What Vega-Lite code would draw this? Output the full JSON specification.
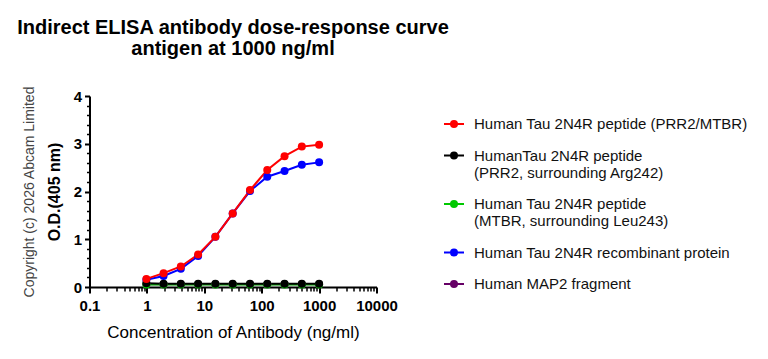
{
  "$schema": "https://vega.github.io/schema/vega-lite/v6.json",
  "autosize": {"type": "none"},
  "width": 287,
  "height": 191,
  "padding": {"left": 89.5, "top": 96, "right": 391.5, "bottom": 72},
  "background": "white",
  "config": {
    "view": {"stroke": null},
    "font": "Liberation Sans",
    "axis": {"grid": false, "domainColor": "black", "tickColor": "black", "labelColor": "black", "titleColor": "black"}
  },
  "title": {
    "text": ["Indirect ELISA antibody dose-response curve", "antigen at 1000 ng/ml"],
    "font": "Liberation Sans",
    "fontSize": 20,
    "fontWeight": "bold",
    "color": "black",
    "lineHeight": 21,
    "anchor": "middle",
    "frame": "group",
    "offset": 27
  },
  "data": {
    "values": [
      {"conc": 0.98, "od": 0.06, "series": "Human MAP2 fragment"},
      {"conc": 1.95, "od": 0.06, "series": "Human MAP2 fragment"},
      {"conc": 3.9, "od": 0.06, "series": "Human MAP2 fragment"},
      {"conc": 7.8, "od": 0.06, "series": "Human MAP2 fragment"},
      {"conc": 15.6, "od": 0.06, "series": "Human MAP2 fragment"},
      {"conc": 31.25, "od": 0.06, "series": "Human MAP2 fragment"},
      {"conc": 62.5, "od": 0.06, "series": "Human MAP2 fragment"},
      {"conc": 125, "od": 0.06, "series": "Human MAP2 fragment"},
      {"conc": 250, "od": 0.06, "series": "Human MAP2 fragment"},
      {"conc": 500, "od": 0.06, "series": "Human MAP2 fragment"},
      {"conc": 1000, "od": 0.06, "series": "Human MAP2 fragment"},
      {"conc": 0.98, "od": 0.05, "series": "Human Tau 2N4R peptide (MTBR, surrounding Leu243)"},
      {"conc": 1.95, "od": 0.05, "series": "Human Tau 2N4R peptide (MTBR, surrounding Leu243)"},
      {"conc": 3.9, "od": 0.05, "series": "Human Tau 2N4R peptide (MTBR, surrounding Leu243)"},
      {"conc": 7.8, "od": 0.05, "series": "Human Tau 2N4R peptide (MTBR, surrounding Leu243)"},
      {"conc": 15.6, "od": 0.05, "series": "Human Tau 2N4R peptide (MTBR, surrounding Leu243)"},
      {"conc": 31.25, "od": 0.05, "series": "Human Tau 2N4R peptide (MTBR, surrounding Leu243)"},
      {"conc": 62.5, "od": 0.05, "series": "Human Tau 2N4R peptide (MTBR, surrounding Leu243)"},
      {"conc": 125, "od": 0.05, "series": "Human Tau 2N4R peptide (MTBR, surrounding Leu243)"},
      {"conc": 250, "od": 0.05, "series": "Human Tau 2N4R peptide (MTBR, surrounding Leu243)"},
      {"conc": 500, "od": 0.05, "series": "Human Tau 2N4R peptide (MTBR, surrounding Leu243)"},
      {"conc": 1000, "od": 0.05, "series": "Human Tau 2N4R peptide (MTBR, surrounding Leu243)"},
      {"conc": 0.98, "od": 0.15, "series": "Human Tau 2N4R recombinant protein"},
      {"conc": 1.95, "od": 0.23, "series": "Human Tau 2N4R recombinant protein"},
      {"conc": 3.9, "od": 0.38, "series": "Human Tau 2N4R recombinant protein"},
      {"conc": 7.8, "od": 0.65, "series": "Human Tau 2N4R recombinant protein"},
      {"conc": 15.6, "od": 1.05, "series": "Human Tau 2N4R recombinant protein"},
      {"conc": 31.25, "od": 1.54, "series": "Human Tau 2N4R recombinant protein"},
      {"conc": 62.5, "od": 2.01, "series": "Human Tau 2N4R recombinant protein"},
      {"conc": 125, "od": 2.31, "series": "Human Tau 2N4R recombinant protein"},
      {"conc": 250, "od": 2.43, "series": "Human Tau 2N4R recombinant protein"},
      {"conc": 500, "od": 2.56, "series": "Human Tau 2N4R recombinant protein"},
      {"conc": 1000, "od": 2.61, "series": "Human Tau 2N4R recombinant protein"},
      {"conc": 0.98, "od": 0.08, "series": "HumanTau 2N4R peptide (PRR2, surrounding Arg242)"},
      {"conc": 1.95, "od": 0.07, "series": "HumanTau 2N4R peptide (PRR2, surrounding Arg242)"},
      {"conc": 3.9, "od": 0.07, "series": "HumanTau 2N4R peptide (PRR2, surrounding Arg242)"},
      {"conc": 7.8, "od": 0.07, "series": "HumanTau 2N4R peptide (PRR2, surrounding Arg242)"},
      {"conc": 15.6, "od": 0.07, "series": "HumanTau 2N4R peptide (PRR2, surrounding Arg242)"},
      {"conc": 31.25, "od": 0.07, "series": "HumanTau 2N4R peptide (PRR2, surrounding Arg242)"},
      {"conc": 62.5, "od": 0.07, "series": "HumanTau 2N4R peptide (PRR2, surrounding Arg242)"},
      {"conc": 125, "od": 0.07, "series": "HumanTau 2N4R peptide (PRR2, surrounding Arg242)"},
      {"conc": 250, "od": 0.07, "series": "HumanTau 2N4R peptide (PRR2, surrounding Arg242)"},
      {"conc": 500, "od": 0.07, "series": "HumanTau 2N4R peptide (PRR2, surrounding Arg242)"},
      {"conc": 1000, "od": 0.07, "series": "HumanTau 2N4R peptide (PRR2, surrounding Arg242)"},
      {"conc": 0.98, "od": 0.17, "series": "Human Tau 2N4R peptide (PRR2/MTBR)"},
      {"conc": 1.95, "od": 0.29, "series": "Human Tau 2N4R peptide (PRR2/MTBR)"},
      {"conc": 3.9, "od": 0.43, "series": "Human Tau 2N4R peptide (PRR2/MTBR)"},
      {"conc": 7.8, "od": 0.68, "series": "Human Tau 2N4R peptide (PRR2/MTBR)"},
      {"conc": 15.6, "od": 1.05, "series": "Human Tau 2N4R peptide (PRR2/MTBR)"},
      {"conc": 31.25, "od": 1.54, "series": "Human Tau 2N4R peptide (PRR2/MTBR)"},
      {"conc": 62.5, "od": 2.03, "series": "Human Tau 2N4R peptide (PRR2/MTBR)"},
      {"conc": 125, "od": 2.45, "series": "Human Tau 2N4R peptide (PRR2/MTBR)"},
      {"conc": 250, "od": 2.74, "series": "Human Tau 2N4R peptide (PRR2/MTBR)"},
      {"conc": 500, "od": 2.94, "series": "Human Tau 2N4R peptide (PRR2/MTBR)"},
      {"conc": 1000, "od": 2.98, "series": "Human Tau 2N4R peptide (PRR2/MTBR)"}
    ]
  },
  "encoding": {
    "x": {"field": "conc", "type": "quantitative", "scale": {"type": "log", "domain": [0.1, 10000], "nice": false}},
    "y": {"field": "od", "type": "quantitative", "scale": {"domain": [0, 4], "nice": false, "zero": true}},
    "color": {
      "field": "series",
      "type": "nominal",
      "sort": null,
      "scale": {
        "domain": [
          "Human Tau 2N4R peptide (PRR2/MTBR)",
          "HumanTau 2N4R peptide (PRR2, surrounding Arg242)",
          "Human Tau 2N4R peptide (MTBR, surrounding Leu243)",
          "Human Tau 2N4R recombinant protein",
          "Human MAP2 fragment"
        ],
        "range": ["#FF0000", "#000000", "#00C800", "#0000FF", "#660066"]
      },
      "legend": {
        "title": null,
        "orient": "none",
        "legendX": 353.5,
        "legendY": 17,
        "labelFont": "Liberation Sans",
        "labelFontSize": 15,
        "labelColor": "#111111",
        "labelLimit": 400,
        "labelOffset": 9,
        "rowPadding": 12.5,
        "symbolType": "M-1,0H1M0.3,0A0.3,0.3,0,1,1,-0.3,0A0.3,0.3,0,1,1,0.3,0Z",
        "symbolSize": 400,
        "symbolStrokeWidth": 2,
        "labelExpr": "indexof(datum.label, ', surrounding') > 0 ? [substring(datum.label, 0, indexof(datum.label, ' (')), substring(datum.label, indexof(datum.label, ' (') + 1)] : datum.label",
        "encode": {
          "symbols": {"update": {"fill": {"scale": "color", "field": "value"}, "stroke": {"scale": "color", "field": "value"}, "fillOpacity": {"value": 1}}}
        }
      }
    }
  },
  "layer": [
    {
      "mark": {"type": "line", "strokeWidth": 2},
      "encoding": {
        "x": {
          "field": "conc", "type": "quantitative",
          "axis": {
            "orient": "bottom",
            "title": "Concentration of Antibody (ng/ml)",
            "titleFont": "Liberation Sans",
            "titleFontSize": 17,
            "titleFontWeight": "normal",
            "titlePadding": 11,
            "values": [0.1, 1, 10, 100, 1000, 10000],
            "labelExpr": "toString(datum.value)",
            "labelFont": "Liberation Sans",
            "labelFontSize": 15,
            "labelFontWeight": "bold",
            "labelPadding": 5,
            "labelFlush": false,
            "labelOverlap": false,
            "tickSize": 6,
            "tickWidth": 2,
            "domainWidth": 2
          }
        },
        "y": {
          "field": "od", "type": "quantitative",
          "axis": {
            "orient": "left",
            "title": "O.D.(405 nm)",
            "titleFont": "Liberation Sans",
            "titleFontSize": 16,
            "titleFontWeight": "bold",
            "titlePadding": 11,
            "values": [0, 1, 2, 3, 4],
            "labelFont": "Liberation Sans",
            "labelFontSize": 15,
            "labelFontWeight": "bold",
            "labelPadding": 3,
            "labelFlush": false,
            "tickSize": 5,
            "tickWidth": 2,
            "domainWidth": 2
          }
        }
      }
    },
    {
      "mark": {"type": "point", "filled": true, "size": 64, "opacity": 1},
      "encoding": {
        "x": {"field": "conc", "type": "quantitative", "axis": null},
        "y": {"field": "od", "type": "quantitative", "axis": null}
      }
    },
    {
      "mark": {"type": "point", "opacity": 0},
      "encoding": {
        "x": {
          "field": "conc", "type": "quantitative",
          "axis": {
            "orient": "bottom", "title": null, "labels": false, "domain": false,
            "values": [0.2, 0.3, 0.4, 0.5, 0.6, 0.7, 0.8, 0.9, 2, 3, 4, 5, 6, 7, 8, 9, 20, 30, 40, 50, 60, 70, 80, 90, 200, 300, 400, 500, 600, 700, 800, 900, 2000, 3000, 4000, 5000, 6000, 7000, 8000, 9000],
            "tickSize": 4, "tickWidth": 1.5
          }
        },
        "y": {
          "field": "od", "type": "quantitative",
          "axis": {
            "orient": "left", "title": null, "labels": false, "domain": false,
            "values": [0.2, 0.4, 0.6, 0.8, 1.2, 1.4, 1.6, 1.8, 2.2, 2.4, 2.6, 2.8, 3.2, 3.4, 3.6, 3.8],
            "tickSize": 3, "tickWidth": 1.5
          }
        },
        "color": {"value": "black"}
      }
    },
    {
      "mark": {"type": "point", "opacity": 0},
      "encoding": {
        "x": {"field": "conc", "type": "quantitative", "axis": null},
        "y": {
          "field": "od", "type": "quantitative",
          "axis": {
            "orient": "left",
            "title": "Copyright (c) 2026 Abcam Limited",
            "titleFont": "Liberation Sans",
            "titleFontSize": 14,
            "titleFontWeight": "normal",
            "titleColor": "#444444",
            "titlePadding": 53,
            "labels": false, "ticks": false, "domain": false
          }
        },
        "color": {"value": "black"}
      }
    }
  ],
  "resolve": {"axis": {"x": "independent", "y": "independent"}}
}
